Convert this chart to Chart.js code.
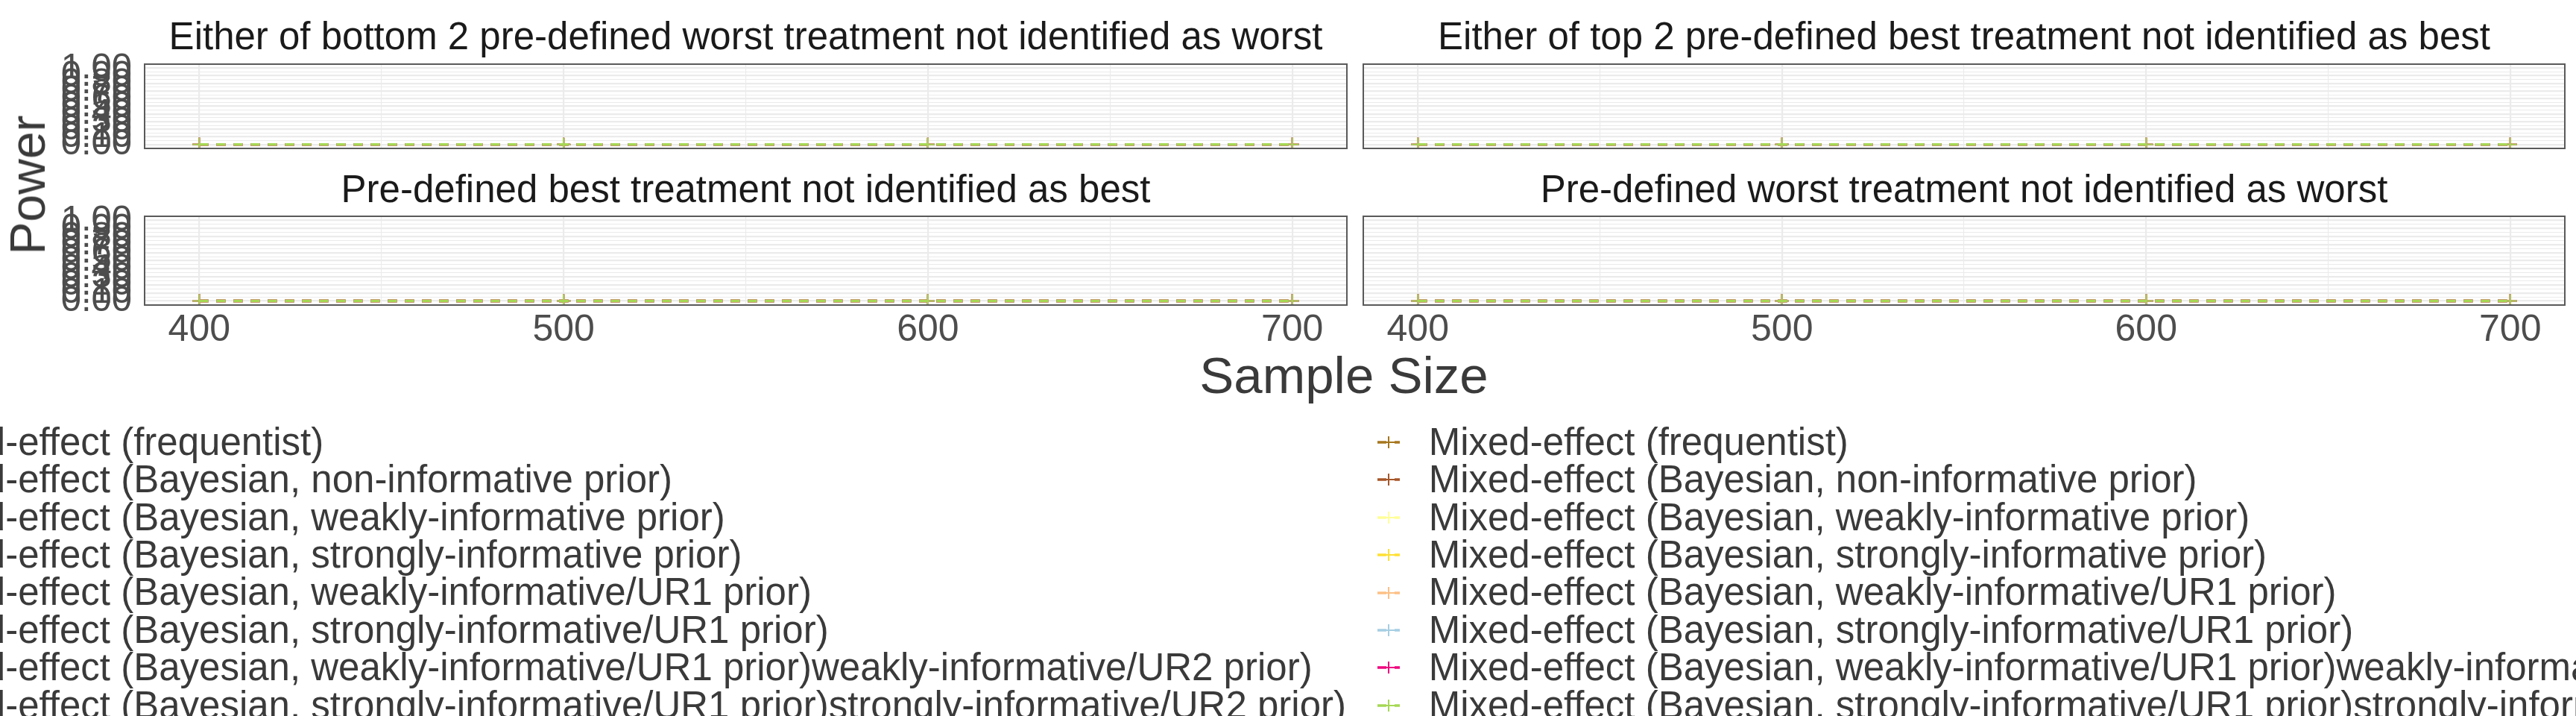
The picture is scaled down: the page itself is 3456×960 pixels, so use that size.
<!DOCTYPE html>
<html>
<head>
<meta charset="utf-8">
<script src="https://cdn.jsdelivr.net/npm/chart.js@4.4.1/dist/chart.umd.min.js"></script>
<style>
  html, body { margin:0; padding:0; background:#ffffff; }
  body { width:3456px; height:960px; overflow:hidden; position:relative;
         font-family:"Liberation Sans", Arial, sans-serif; }
  canvas { position:absolute; }
  .axisTitle { position:absolute; white-space:nowrap; line-height:1; color:#3a3a3a; }
  .legendCol { position:absolute; white-space:nowrap; font-size:51px; color:#3a3a3a; }
  .legendRow { display:flex; align-items:center; height:50.4px; line-height:50.4px; }
  .legendRow svg { flex:none; margin-right:39px; }
</style>
</head>
<body>
<script>
// ---------------- data ----------------
const sampleSizes = [400, 500, 600, 700];
const xTickLabels = ["400", "500", "600", "700"];
const xMinorBreaks = [450, 550, 650];
const yBreaks = [0, 0.1, 0.2, 0.3, 0.4, 0.5, 0.6, 0.7, 0.8, 0.9, 1.0];
const yTickLabels = ["0.00","0.10","0.20","0.30","0.40","0.50","0.60","0.70","0.80","0.90","1.00"];
const yMinorBreaks = [0.05, 0.15, 0.25, 0.35, 0.45, 0.55, 0.65, 0.75, 0.85, 0.95];

const panelTitles = [
  "Either of bottom 2 pre-defined worst treatment not identified as worst",
  "Either of top 2 pre-defined best treatment not identified as best",
  "Pre-defined best treatment not identified as best",
  "Pre-defined worst treatment not identified as worst"
];

const seriesNames = [
  "Fixed-effect (frequentist)",
  "Fixed-effect (Bayesian, non-informative prior)",
  "Fixed-effect (Bayesian, weakly-informative prior)",
  "Fixed-effect (Bayesian, strongly-informative prior)",
  "Fixed-effect (Bayesian, weakly-informative/UR1 prior)",
  "Fixed-effect (Bayesian, strongly-informative/UR1 prior)",
  "Fixed-effect (Bayesian, weakly-informative/UR1 prior)weakly-informative/UR2 prior)",
  "Fixed-effect (Bayesian, strongly-informative/UR1 prior)strongly-informative/UR2 prior)",
  "Mixed-effect (frequentist)",
  "Mixed-effect (Bayesian, non-informative prior)",
  "Mixed-effect (Bayesian, weakly-informative prior)",
  "Mixed-effect (Bayesian, strongly-informative prior)",
  "Mixed-effect (Bayesian, weakly-informative/UR1 prior)",
  "Mixed-effect (Bayesian, strongly-informative/UR1 prior)",
  "Mixed-effect (Bayesian, weakly-informative/UR1 prior)weakly-informative/UR2 prior)",
  "Mixed-effect (Bayesian, strongly-informative/UR1 prior)strongly-informative/UR2 prior)"
];

const seriesColors = [
  "#E41A1C", "#377EB8", "#4DAF4A", "#984EA3", "#FF7F00", "#1B9E77", "#D95F02", "#7570B3",
  "#A6761D", "#A65628", "#FFFF99", "#FFE033", "#FDC086", "#A6CEE3", "#F0027F", "#A6D854"
];

// power values per panel: one row per series, one value per sample size
const powerBottom2Worst = [
  [0,0,0,0],[0,0,0,0],[0,0,0,0],[0,0,0,0],[0,0,0,0],[0,0,0,0],[0,0,0,0],[0,0,0,0],
  [0,0,0,0],[0,0,0,0],[0,0,0,0],[0,0,0,0],[0,0,0,0],[0,0,0,0],[0,0,0,0],[0,0,0,0]
];
const powerTop2Best = [
  [0,0,0,0],[0,0,0,0],[0,0,0,0],[0,0,0,0],[0,0,0,0],[0,0,0,0],[0,0,0,0],[0,0,0,0],
  [0,0,0,0],[0,0,0,0],[0,0,0,0],[0,0,0,0],[0,0,0,0],[0,0,0,0],[0,0,0,0],[0,0,0,0]
];
const powerBestNotBest = [
  [0,0,0,0],[0,0,0,0],[0,0,0,0],[0,0,0,0],[0,0,0,0],[0,0,0,0],[0,0,0,0],[0,0,0,0],
  [0,0,0,0],[0,0,0,0],[0,0,0,0],[0,0,0,0],[0,0,0,0],[0,0,0,0],[0,0,0,0],[0,0,0,0]
];
const powerWorstNotWorst = [
  [0,0,0,0],[0,0,0,0],[0,0,0,0],[0,0,0,0],[0,0,0,0],[0,0,0,0],[0,0,0,0],[0,0,0,0],
  [0,0,0,0],[0,0,0,0],[0,0,0,0],[0,0,0,0],[0,0,0,0],[0,0,0,0],[0,0,0,0],[0,0,0,0]
];

// ---------------- layout ----------------
const FONT = '"Liberation Sans", Arial, sans-serif';
const panelBorder = {
  id: 'panelBorder',
  afterDraw(chart) {
    const a = chart.chartArea, c = chart.ctx;
    c.save();
    c.strokeStyle = '#5a5a5a';
    c.lineWidth = 2;
    c.strokeRect(a.left, a.top, a.right - a.left, a.bottom - a.top);
    c.restore();
  }
};

function isMajor(list, v) { return list.some(b => Math.abs(b - v) < 1e-9); }

function makePanel(cfg) {
  const cv = document.createElement('canvas');
  cv.width = cfg.w; cv.height = cfg.h;
  cv.style.left = cfg.x + 'px'; cv.style.top = cfg.y + 'px';
  cv.style.width = cfg.w + 'px'; cv.style.height = cfg.h + 'px';
  document.body.appendChild(cv);

  const datasets = cfg.values.map((row, i) => ({
    label: seriesNames[i],
    data: sampleSizes.map((s, j) => ({ x: s, y: row[j] })),
    borderColor: seriesColors[i],
    backgroundColor: seriesColors[i],
    borderWidth: 3.5,
    borderDash: [12, 11],
    pointStyle: 'cross',
    pointRadius: 9,
    pointHoverRadius: 9,
    pointBorderWidth: 2,
    fill: false,
    tension: 0,
    clip: 0,
    order: seriesNames.length - i
  }));

  new Chart(cv, {
    type: 'line',
    data: { datasets },
    options: {
      responsive: false,
      animation: false,
      devicePixelRatio: 1,
      events: [],
      layout: { padding: { left: 0, right: cfg.padRight, top: 0, bottom: 0 } },
      plugins: {
        legend: { display: false },
        tooltip: { enabled: false },
        title: {
          display: true,
          text: cfg.title,
          fullSize: false,
          color: '#1a1a1a',
          font: { family: FONT, size: 51, weight: 'normal' },
          padding: { top: cfg.titlePadTop, bottom: cfg.titlePadBottom }
        }
      },
      scales: {
        x: {
          type: 'linear',
          min: 385, max: 715,
          afterBuildTicks: s => {
            s.ticks = sampleSizes.concat(xMinorBreaks).sort((a, b) => a - b).map(v => ({ value: v }));
          },
          afterFit: s => { s.height = cfg.xAxisH; s.paddingLeft = 0; s.paddingRight = 0; },
          border: { display: false },
          grid: {
            drawTicks: false,
            color: '#ebebeb',
            lineWidth: ctx => isMajor(sampleSizes, ctx.tick.value) ? 2.2 : 1.1
          },
          ticks: {
            display: cfg.showX,
            autoSkip: false,
            maxRotation: 0, minRotation: 0,
            padding: 4,
            color: '#4d4d4d',
            font: { family: FONT, size: 50 },
            callback: v => {
              const k = sampleSizes.findIndex(s => Math.abs(s - v) < 1e-9);
              return k >= 0 ? xTickLabels[k] : '';
            }
          }
        },
        y: {
          type: 'linear',
          min: -0.05, max: 1.05,
          afterBuildTicks: s => {
            s.ticks = yBreaks.concat(yMinorBreaks).sort((a, b) => a - b).map(v => ({ value: v }));
          },
          afterFit: s => { s.width = cfg.yAxisW; s.paddingTop = 0; s.paddingBottom = 0; },
          border: { display: false },
          grid: {
            drawTicks: false,
            color: '#ebebeb',
            lineWidth: ctx => isMajor(yBreaks, ctx.tick.value) ? 2.2 : 1.1
          },
          ticks: {
            display: cfg.showY,
            autoSkip: false,
            padding: 17,
            color: '#4d4d4d',
            font: { family: FONT, size: 49 },
            callback: v => {
              const k = yBreaks.findIndex(b => Math.abs(b - v) < 1e-9);
              return k >= 0 ? yTickLabels[k] : '';
            }
          }
        }
      }
    },
    plugins: [panelBorder]
  });
}

// top-left, top-right, bottom-left, bottom-right
makePanel({ x: 0,    y: 0,   w: 1818, h: 210, padRight: 7,  yAxisW: 194, xAxisH: 6,
            titlePadTop: 21.7, titlePadBottom: 3.1, showX: false, showY: true,
            title: panelTitles[0], values: powerBottom2Worst });
makePanel({ x: 1818, y: 0,   w: 1638, h: 210, padRight: 15, yAxisW: 7,   xAxisH: 6,
            titlePadTop: 21.7, titlePadBottom: 3.1, showX: false, showY: false,
            title: panelTitles[1], values: powerTop2Best });
makePanel({ x: 0,    y: 210, w: 1818, h: 270, padRight: 7,  yAxisW: 194, xAxisH: 71,
            titlePadTop: 16.7, titlePadBottom: 2.1, showX: true, showY: true,
            title: panelTitles[2], values: powerBestNotBest });
makePanel({ x: 1818, y: 210, w: 1638, h: 270, padRight: 15, yAxisW: 7,   xAxisH: 71,
            titlePadTop: 16.7, titlePadBottom: 2.1, showX: true, showY: false,
            title: panelTitles[3], values: powerWorstNotWorst });

// ---------------- axis titles ----------------
const yTitle = document.createElement('div');
yTitle.className = 'axisTitle';
yTitle.textContent = 'Power';
yTitle.style.fontSize = '66px';
yTitle.style.left = '37px'; yTitle.style.top = '247.5px';
yTitle.style.transform = 'translate(-50%, -50%) rotate(-90deg)';
document.body.appendChild(yTitle);

const xTitle = document.createElement('div');
xTitle.className = 'axisTitle';
xTitle.textContent = 'Sample Size';
xTitle.style.fontSize = '69px';
xTitle.style.left = '1803px'; xTitle.style.top = '503px';
xTitle.style.transform = 'translate(-50%, -50%)';
document.body.appendChild(xTitle);

// ---------------- legend ----------------
function keySvg(color) {
  const ns = 'http://www.w3.org/2000/svg';
  const svg = document.createElementNS(ns, 'svg');
  svg.setAttribute('width', '30'); svg.setAttribute('height', '50');
  const c = 25;
  const mk = (x1, y1, x2, y2, w, dash) => {
    const l = document.createElementNS(ns, 'line');
    l.setAttribute('x1', x1); l.setAttribute('y1', y1);
    l.setAttribute('x2', x2); l.setAttribute('y2', y2);
    l.setAttribute('stroke', color); l.setAttribute('stroke-width', w);
    if (dash) l.setAttribute('stroke-dasharray', dash);
    svg.appendChild(l);
  };
  mk(0, c, 30, c, 3.3, '12 11');
  mk(6, c, 24, c, 2);
  mk(15, c - 8, 15, c + 8, 2);
  return svg;
}

function legendColumn(indices, pos) {
  const col = document.createElement('div');
  col.className = 'legendCol';
  col.style.top = (593 - 25.2) + 'px';
  if (pos.right !== undefined) col.style.right = pos.right + 'px';
  else col.style.left = pos.left + 'px';
  indices.forEach(i => {
    const row = document.createElement('div');
    row.className = 'legendRow';
    row.appendChild(keySvg(seriesColors[i]));
    const t = document.createElement('span');
    t.textContent = seriesNames[i];
    row.appendChild(t);
    col.appendChild(row);
  });
  document.body.appendChild(col);
}
legendColumn([0,1,2,3,4,5,6,7], { right: 3456 - 1806 });
legendColumn([8,9,10,11,12,13,14,15], { left: 1847.7 });
</script>
</body>
</html>
